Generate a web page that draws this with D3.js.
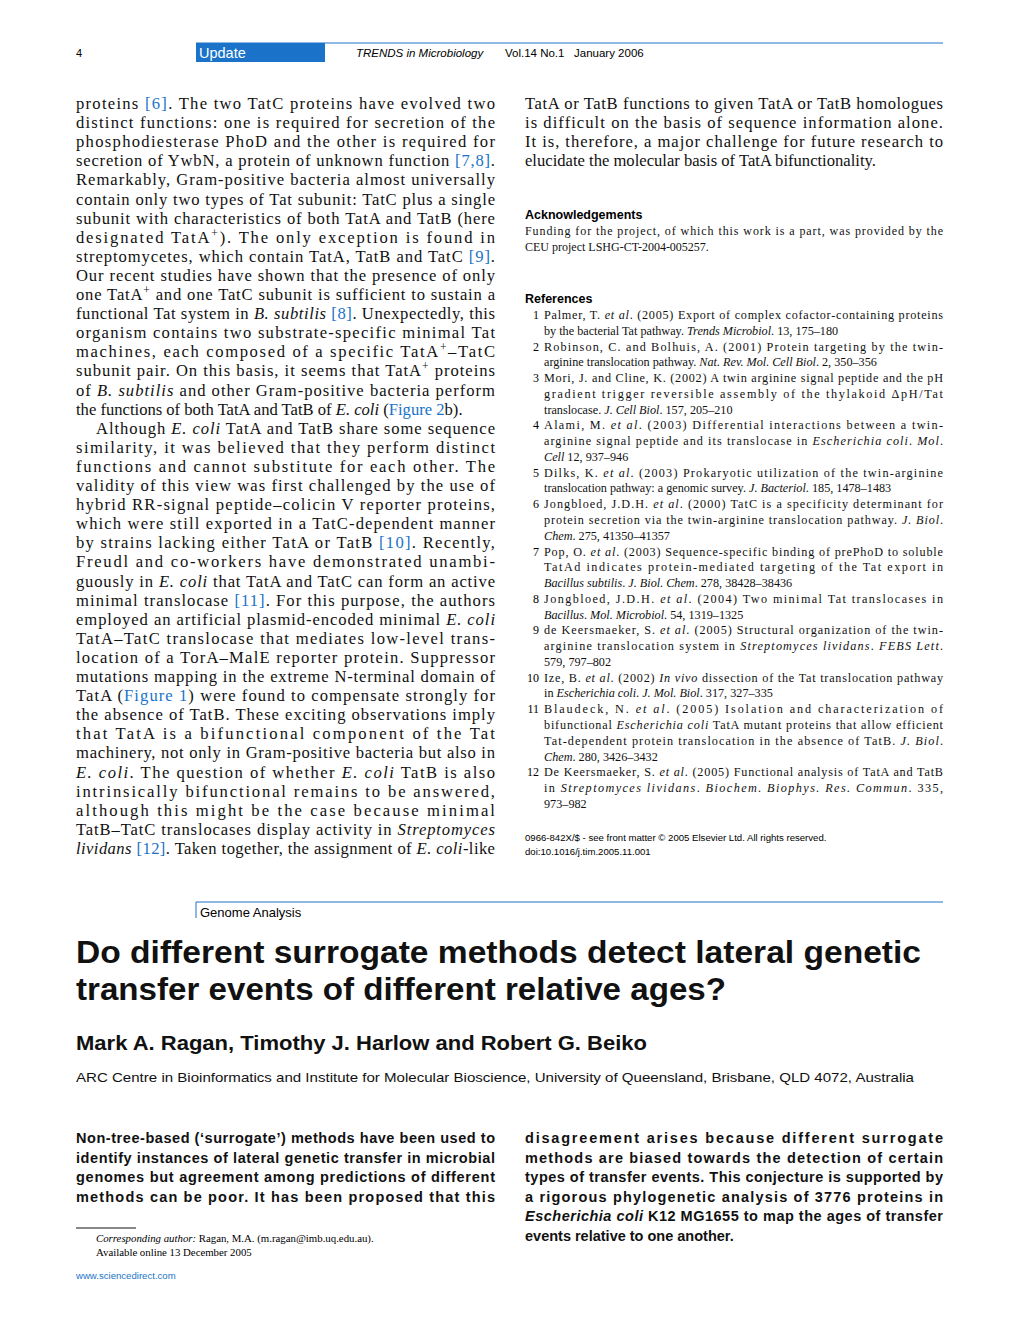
<!DOCTYPE html>
<html><head><meta charset="utf-8">
<script src="https://cdn.jsdelivr.net/npm/d3@7"></script>
<style>body{margin:0;background:#fff}</style>
</head><body>
<script>
// markup: _italic_  {blue link}  ^superscript^
var leftLines = [
  "proteins {[6]}. The two TatC proteins have evolved two",
  "distinct functions: one is required for secretion of the",
  "phosphodiesterase PhoD and the other is required for",
  "secretion of YwbN, a protein of unknown function {[7,8]}.",
  "Remarkably, Gram-positive bacteria almost universally",
  "contain only two types of Tat subunit: TatC plus a single",
  "subunit with characteristics of both TatA and TatB (here",
  "designated TatA^+^). The only exception is found in",
  "streptomycetes, which contain TatA, TatB and TatC {[9]}.",
  "Our recent studies have shown that the presence of only",
  "one TatA^+^ and one TatC subunit is sufficient to sustain a",
  "functional Tat system in _B. subtilis_ {[8]}. Unexpectedly, this",
  "organism contains two substrate-specific minimal Tat",
  "machines, each composed of a specific TatA^+^–TatC",
  "subunit pair. On this basis, it seems that TatA^+^ proteins",
  "of _B. subtilis_ and other Gram-positive bacteria perform",
  "the functions of both TatA and TatB of _E. coli_ ({Figure 2}b).",
  "Although _E. coli_ TatA and TatB share some sequence",
  "similarity, it was believed that they perform distinct",
  "functions and cannot substitute for each other. The",
  "validity of this view was first challenged by the use of",
  "hybrid RR-signal peptide–colicin V reporter proteins,",
  "which were still exported in a TatC-dependent manner",
  "by strains lacking either TatA or TatB {[10]}. Recently,",
  "Freudl and co-workers have demonstrated unambi-",
  "guously in _E. coli_ that TatA and TatC can form an active",
  "minimal translocase {[11]}. For this purpose, the authors",
  "employed an artificial plasmid-encoded minimal _E. coli_",
  "TatA–TatC translocase that mediates low-level trans-",
  "location of a TorA–MalE reporter protein. Suppressor",
  "mutations mapping in the extreme N-terminal domain of",
  "TatA ({Figure 1}) were found to compensate strongly for",
  "the absence of TatB. These exciting observations imply",
  "that TatA is a bifunctional component of the Tat",
  "machinery, not only in Gram-positive bacteria but also in",
  "_E. coli_. The question of whether _E. coli_ TatB is also",
  "intrinsically bifunctional remains to be answered,",
  "although this might be the case because minimal",
  "TatB–TatC translocases display activity in _Streptomyces_",
  "_lividans_ {[12]}. Taken together, the assignment of _E. coli_-like"
];
var leftLast = [16];
var leftIndent = [17];

var rightLines = [
  "TatA or TatB functions to given TatA or TatB homologues",
  "is difficult on the basis of sequence information alone.",
  "It is, therefore, a major challenge for future research to",
  "elucidate the molecular basis of TatA bifunctionality."
];

var ackLines = [
  "Funding for the project, of which this work is a part, was provided by the",
  "CEU project LSHG-CT-2004-005257."
];

var references = [
  ["Palmer, T. _et al_. (2005) Export of complex cofactor-containing proteins", "by the bacterial Tat pathway. _Trends Microbiol_. 13, 175–180"],
  ["Robinson, C. and Bolhuis, A. (2001) Protein targeting by the twin-", "arginine translocation pathway. _Nat. Rev. Mol. Cell Biol_. 2, 350–356"],
  ["Mori, J. and Cline, K. (2002) A twin arginine signal peptide and the pH", "gradient trigger reversible assembly of the thylakoid ΔpH/Tat", "translocase. _J. Cell Biol_. 157, 205–210"],
  ["Alami, M. _et al_. (2003) Differential interactions between a twin-", "arginine signal peptide and its translocase in _Escherichia coli_. _Mol_.", "_Cell_ 12, 937–946"],
  ["Dilks, K. _et al_. (2003) Prokaryotic utilization of the twin-arginine", "translocation pathway: a genomic survey. _J. Bacteriol_. 185, 1478–1483"],
  ["Jongbloed, J.D.H. _et al_. (2000) TatC is a specificity determinant for", "protein secretion via the twin-arginine translocation pathway. _J. Biol_.", "_Chem_. 275, 41350–41357"],
  ["Pop, O. _et al_. (2003) Sequence-specific binding of prePhoD to soluble", "TatAd indicates protein-mediated targeting of the Tat export in", "_Bacillus subtilis_. _J. Biol. Chem_. 278, 38428–38436"],
  ["Jongbloed, J.D.H. _et al_. (2004) Two minimal Tat translocases in", "_Bacillus_. _Mol. Microbiol_. 54, 1319–1325"],
  ["de Keersmaeker, S. _et al_. (2005) Structural organization of the twin-", "arginine translocation system in _Streptomyces lividans_. _FEBS Lett_.", "579, 797–802"],
  ["Ize, B. _et al_. (2002) _In vivo_ dissection of the Tat translocation pathway", "in _Escherichia coli_. _J. Mol. Biol_. 317, 327–335"],
  ["Blaudeck, N. _et al_. (2005) Isolation and characterization of", "bifunctional _Escherichia coli_ TatA mutant proteins that allow efficient", "Tat-dependent protein translocation in the absence of TatB. _J. Biol_.", "_Chem_. 280, 3426–3432"],
  ["De Keersmaeker, S. _et al_. (2005) Functional analysis of TatA and TatB", "in _Streptomyces lividans_. _Biochem. Biophys. Res. Commun_. 335,", "973–982"]
];

var titleLines = ["Do different surrogate methods detect lateral genetic", "transfer events of different relative ages?"];
var authors = "Mark A. Ragan, Timothy J. Harlow and Robert G. Beiko";
var affiliation = "ARC Centre in Bioinformatics and Institute for Molecular Bioscience, University of Queensland, Brisbane, QLD 4072, Australia";

var abstractLeft = [
  "Non-tree-based (‘surrogate’) methods have been used to",
  "identify instances of lateral genetic transfer in microbial",
  "genomes but agreement among predictions of different",
  "methods can be poor. It has been proposed that this"
];
var abstractRight = [
  "disagreement arises because different surrogate",
  "methods are biased towards the detection of certain",
  "types of transfer events. This conjecture is supported by",
  "a rigorous phylogenetic analysis of 3776 proteins in",
  "_Escherichia coli_ K12 MG1655 to map the ages of transfer",
  "events relative to one another."
];

var blue = "#1a73c8";
var serif = "'Liberation Serif', 'Times New Roman', serif";
var sans = "'Liberation Sans', Arial, sans-serif";

var svg = d3.select("body").append("svg").attr("width", 1020).attr("height", 1323);

// writes one line of markup into a text element
function addLine(g, str, x, y, opt) {
  var t = g.append("text").attr("x", x).attr("y", y)
    .style("font-family", opt.family).style("font-size", opt.size + "px")
    .style("font-weight", opt.weight || "normal").attr("fill", "#111");
  if (opt.width) t.attr("textLength", opt.width).attr("lengthAdjust", "spacing");
  str.split(/(_[^_]+_|\{[^}]+\}|\^[^^]+\^)/).forEach(function(p) {
    if (!p) return;
    var s = t.append("tspan");
    if (p[0] == "_") s.style("font-style", "italic").text(p.slice(1, -1));
    else if (p[0] == "{") s.attr("fill", blue).text(p.slice(1, -1));
    else if (p[0] == "^") s.attr("baseline-shift", "super").style("font-size", (opt.size * 0.7) + "px").text(p.slice(1, -1));
    else s.text(p);
  });
  return t;
}

function block(lines, x, y0, step, w, opt, lastIdx, indentIdx) {
  var g = svg.append("g");
  lines.forEach(function(l, i) {
    var ind = indentIdx && indentIdx.indexOf(i) >= 0 ? 20 : 0;
    var last = (lastIdx && lastIdx.indexOf(i) >= 0);
    addLine(g, l, x + ind, y0 + i * step, Object.assign({}, opt, {width: last ? null : w - ind}));
  });
}

// header
svg.append("line").attr("x1", 196).attr("x2", 943).attr("y1", 43).attr("y2", 43).attr("stroke", blue).attr("stroke-width", 1);
svg.append("rect").attr("x", 196).attr("y", 43).attr("width", 129).attr("height", 19).attr("fill", blue);
svg.append("text").attr("x", 199).attr("y", 58).text("Update").attr("fill", "#fff").style("font-family", sans).style("font-size", "14.5px");
svg.append("text").attr("x", 76).attr("y", 57).text("4").style("font-family", sans).style("font-size", "11px");
var hd = svg.append("text").attr("x", 356).attr("y", 57).style("font-family", sans).style("font-size", "11.5px");
hd.append("tspan").style("font-style", "italic").text("TRENDS in Microbiology");
hd.append("tspan").attr("x", 505).text("Vol.14 No.1");
hd.append("tspan").attr("x", 574).text("January 2006");

// body columns
var body = {family: serif, size: 16.6};
block(leftLines, 76, 109, 19.1, 419, body, leftLast, leftIndent);
block(rightLines, 525, 109, 19.1, 418, body, [3]);

svg.append("text").attr("x", 525).attr("y", 219).text("Acknowledgements").style("font-family", sans).style("font-weight", "bold").style("font-size", "12.5px");
block(ackLines, 525, 235, 16, 418, {family: serif, size: 12}, [1]);

svg.append("text").attr("x", 525).attr("y", 303).text("References").style("font-family", sans).style("font-weight", "bold").style("font-size", "12.5px");
var refG = svg.append("g");
var ry = 319, rstep = 15.77;
references.forEach(function(r, i) {
  refG.append("text").attr("x", 539).attr("y", ry).attr("text-anchor", "end").text(i + 1)
    .style("font-family", serif).style("font-size", "12px");
  r.forEach(function(l, j) {
    var last = j == r.length - 1;
    addLine(refG, l, 544, ry, {family: serif, size: 12.2, width: last ? null : 399});
    ry += rstep;
  });
});

svg.append("text").attr("x", 525).attr("y", 841).text("0966-842X/$ - see front matter © 2005 Elsevier Ltd. All rights reserved.").style("font-family", sans).style("font-size", "9.6px");
svg.append("text").attr("x", 525).attr("y", 855).text("doi:10.1016/j.tim.2005.11.001").style("font-family", sans).style("font-size", "9.6px");

// new article
svg.append("line").attr("x1", 196).attr("x2", 943).attr("y1", 902).attr("y2", 902).attr("stroke", blue);
svg.append("line").attr("x1", 196).attr("x2", 196).attr("y1", 902).attr("y2", 918).attr("stroke", blue);
svg.append("text").attr("x", 200).attr("y", 917).text("Genome Analysis").style("font-family", sans).style("font-size", "13px");

titleLines.forEach(function(l, i) {
  svg.append("text").attr("x", 76).attr("y", 963 + i * 37).text(l)
    .style("font-family", sans).style("font-weight", "bold").style("font-size", "31.5px").attr("fill", "#111")
    .attr("textLength", i == 0 ? 845 : 650).attr("lengthAdjust", "spacingAndGlyphs");
});
svg.append("text").attr("x", 76).attr("y", 1050).text(authors).style("font-family", sans).style("font-weight", "bold").style("font-size", "20px").attr("fill", "#111")
  .attr("textLength", 571).attr("lengthAdjust", "spacingAndGlyphs");
svg.append("text").attr("x", 76).attr("y", 1082).text(affiliation).style("font-family", sans).style("font-size", "13.3px").attr("fill", "#111")
  .attr("textLength", 838).attr("lengthAdjust", "spacingAndGlyphs");

var abs = {family: sans, size: 14.5, weight: "bold"};
block(abstractLeft, 76, 1143, 19.6, 419, abs);
block(abstractRight, 525, 1143, 19.6, 418, abs, [5]);

svg.append("line").attr("x1", 76).attr("x2", 136).attr("y1", 1228).attr("y2", 1228).attr("stroke", "#111");
var fn = svg.append("text").attr("x", 96).attr("y", 1242).style("font-family", serif).style("font-size", "10.8px");
fn.append("tspan").style("font-style", "italic").text("Corresponding author: ");
fn.append("tspan").text("Ragan, M.A. (m.ragan@imb.uq.edu.au).");
svg.append("text").attr("x", 96).attr("y", 1256).text("Available online 13 December 2005").style("font-family", serif).style("font-size", "10.8px");
svg.append("text").attr("x", 76).attr("y", 1279).text("www.sciencedirect.com").attr("fill", blue).style("font-family", sans).style("font-size", "9.6px");
</script>
</body></html>
